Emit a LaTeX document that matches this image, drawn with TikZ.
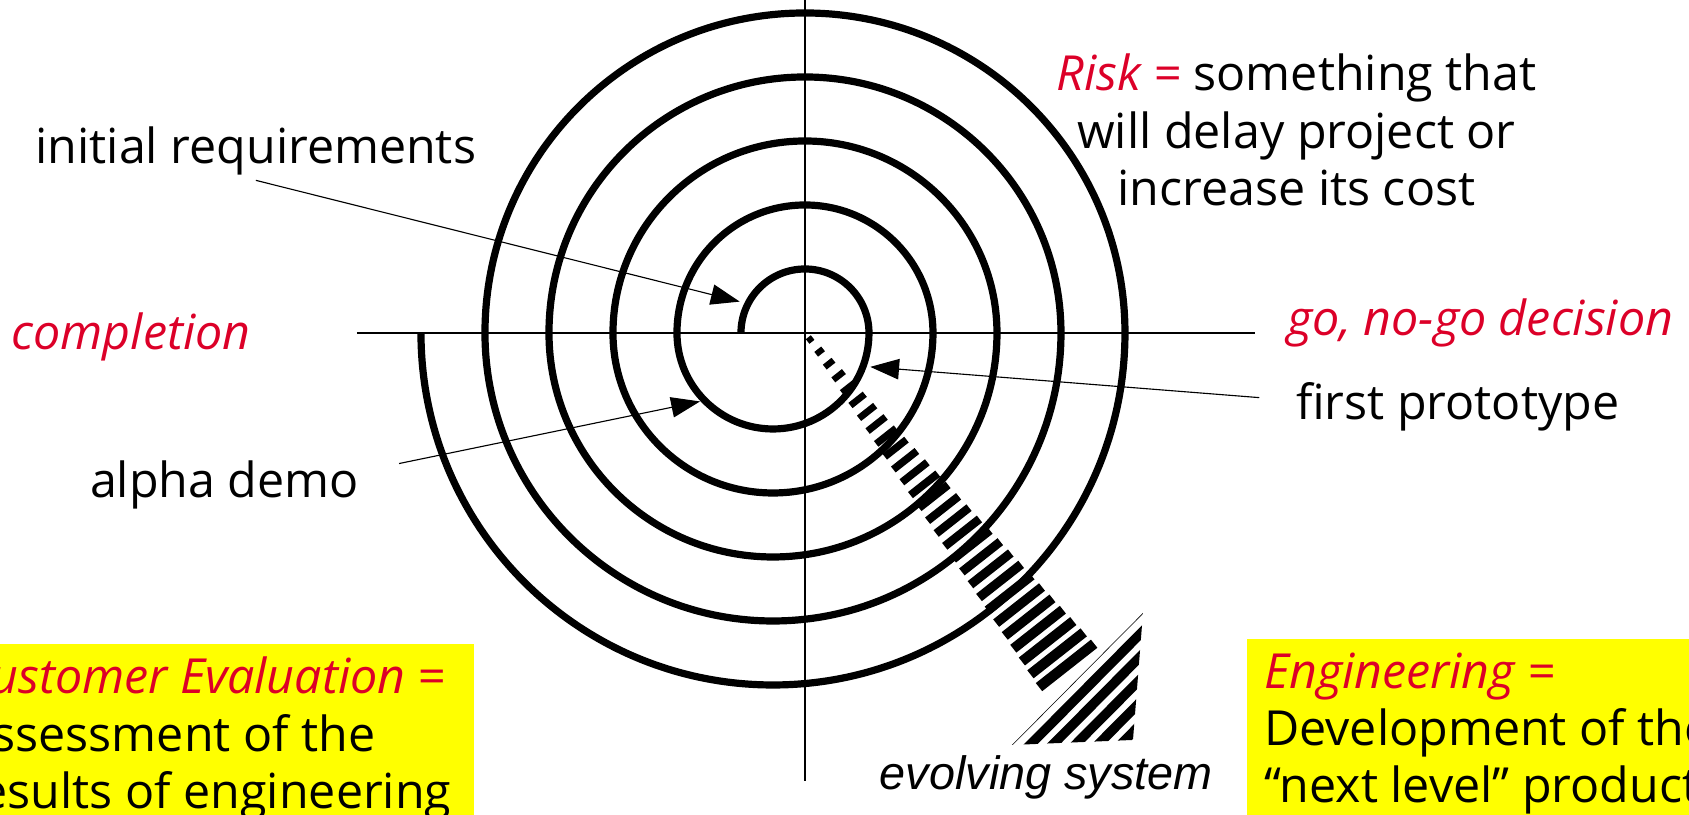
\documentclass[tikz,border=0pt]{standalone}
\usepackage{fontspec}
\setmainfont{Open Sans}
\newfontfamily\arialfont{Liberation Sans}
\usetikzlibrary{arrows.meta,calc}
\definecolor{rosso}{RGB}{220,0,40}
\definecolor{giallo}{RGB}{255,255,0}

\begin{document}
\begin{tikzpicture}[>={Triangle[length=4.5mm,width=3.2mm]},
    testo/.style={font=\fontsize{21.5}{25.5}\selectfont, inner sep=2pt},
    testorosso/.style={testo, text=rosso, font=\fontsize{21.5}{25.5}\selectfont\itshape},
    spirale/.style={line width=3.2pt},
    asse/.style={line width=0.5pt},
    freccia/.style={->, line width=0.5pt},
    riga/.style={line width=0.14cm}]
    % Cornice (stesse proporzioni del disegno originale)
    \useasboundingbox (-12.578,-7.531) rectangle (13.813,5.203);
    \clip (-12.578,-7.531) rectangle (13.813,5.203);
    \coordinate (O) at (0,0);

    % 1. Riquadri gialli in basso
    \fill[giallo] (-13,-4.86) rectangle (-5.17,-8);
    \fill[giallo] (6.91,-4.78) rectangle (14,-8);

    % Assi
    \draw[asse] (-7,0) -- (7.03,0);
    \draw[asse] (0,5.3) -- (0,-7);

    % 2. Spirale: semicerchi sopra centrati in O, sotto centrati in (-0.5,0)
    \draw[spirale] (-1,0) \foreach \k [evaluate=\k as \rr using \k+0.5] in {1,...,5}{
        arc[start angle=180, end angle=0, radius=\k]
        arc[start angle=0, end angle=-180, radius=\rr]};

    % Freccia tratteggiata (sistema che evolve)
    \begin{scope}[rotate=-51.8]
        \foreach \i in {0,...,27}{
            \pgfmathsetmacro{\xx}{0.13+0.24*\i}
            \pgfmathsetmacro{\hh}{0.04+0.53*\xx/6.89}
            \pgfmathsetmacro{\ww}{0.09+0.075*\xx/6.89}
            \draw[riga, line width=\ww cm] (\xx,-\hh) -- (\xx,\hh);
        }
    \end{scope}
    \coordinate (baseA) at (3.234,-6.4375);
    \coordinate (baseB) at (5.281,-4.375);
    \coordinate (punta) at (5.125,-6.359);
    \begin{scope}
        \clip (baseA) -- (baseB) -- (punta) -- cycle;
        \draw[asse] (baseA) -- (baseB);
        \foreach \d in {0.2,0.45,...,1.2}
            \draw[riga, line width=0.15cm] ([shift={({\d*0.7071},{-\d*0.7071})}]baseA) -- ([shift={({\d*0.7071},{-\d*0.7071})}]baseB);
    \end{scope}

    % 3. Etichette
    \node[testo] (initreq) at (-8.58,2.84) {initial requirements};
    \node[testorosso] (completion) at (-10.53,-0.06) {completion};
    \node[testo] (alpha) at (-9.07,-2.37) {alpha demo};
    \node[testo, align=center] (rischio) at (7.68,3.17)
        {{\color{rosso}\itshape Risk =} something that\\ will delay project or\\ increase its cost};
    \node[testorosso] (gonogo) at (10.55,0.16) {go, no-go decision};
    \node[testo] (proto) at (10.2,-1.16) {first prototype};
    \node[font=\arialfont\itshape\fontsize{20.8}{24}\selectfont] (evolving) at (3.77,-6.95) {evolving system};

    % Testi nei riquadri gialli
    \node[testo, anchor=west, align=left] (cliente) at (-13.25,-6.34)
        {{\color{rosso}\itshape Customer Evaluation =}\\ Assessment of the\\ results of engineering};
    \node[testo, anchor=west, align=left] (ingegneria) at (7.1,-6.26)
        {{\color{rosso}\itshape Engineering =}\\ Development of the\\ ``next level'' product};

    % Frecce verso la spirale
    \coordinate (reqtip) at (-1.02,0.49);
    \coordinate (alphatip) at (-1.64,-1.07);
    \coordinate (prototip) at (1.02,-0.53);
    \draw[freccia] (initreq.south) -- (reqtip);
    \draw[freccia] ([shift={(0.55,0.33)}]alpha.east) -- (alphatip);
    \draw[freccia] ([shift={(-0.5,0.15)}]proto.west) -- (prototip);

\end{tikzpicture}
\end{document}
